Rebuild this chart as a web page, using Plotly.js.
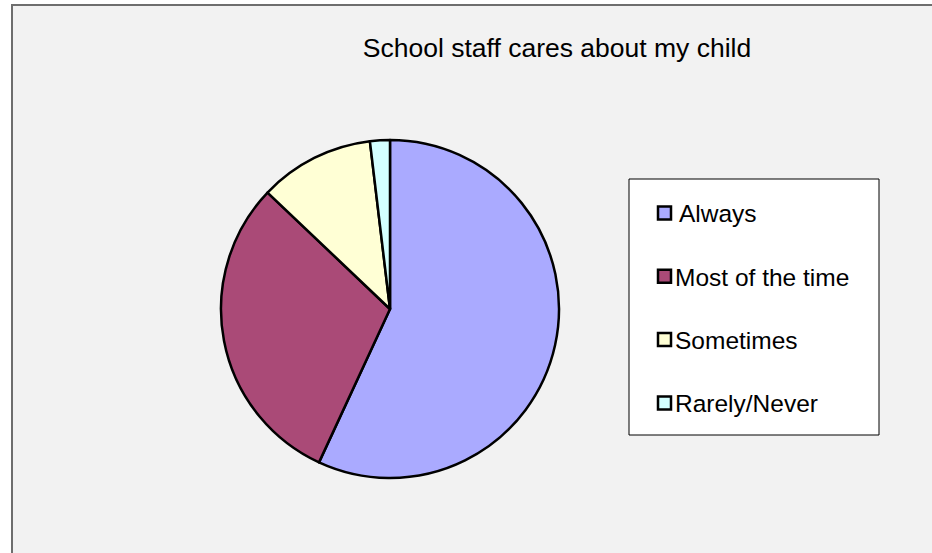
<!DOCTYPE html>
<html>
<head>
<meta charset="utf-8">
<script src="https://cdn.plot.ly/plotly-3.0.1.min.js"></script>
<style>html,body{margin:0;padding:0;background:#fff;}#chart{width:932px;height:553px;}</style>
</head>
<body>
<div id="chart"></div>
<script>
var categories = ["Always", "Most of the time", "Sometimes", "Rarely/Never"];
var values = [56.9, 30.2, 11.0, 1.9];
var colors = ["#AAAAFF", "#AA4A77", "#FFFFD5", "#D3FFFF"];
var titleText = "School staff cares about my child";

var W = 932, H = 553;
function px(x) { return x / W; }
function py(y) { return 1 - y / H; }

var cx = 390, cy = 309, r = 169;

var shapes = [
  {type: "rect", xref: "paper", yref: "paper", x0: px(12), y0: py(5), x1: px(960), y1: py(580),
   fillcolor: "#F2F2F2", line: {color: "#6e6e6e", width: 2}, layer: "below"},
  {type: "rect", xref: "paper", yref: "paper", x0: px(629), y0: py(179), x1: px(879), y1: py(435),
   fillcolor: "#FFFFFF", line: {color: "#000000", width: 1}, layer: "above"}
];
var annotations = [];
var rowY0 = 213, rowGap = 63.3;
categories.forEach(function (c, i) {
  var yc = rowY0 + i * rowGap;
  shapes.push({type: "rect", xref: "paper", yref: "paper",
    x0: px(658), x1: px(671), y0: py(yc - 6.5), y1: py(yc + 6.5),
    fillcolor: colors[i], line: {color: "#000000", width: 2.5}, layer: "above"});
  annotations.push({xref: "paper", yref: "paper", x: px(i === 0 ? 677 : 673), y: py(yc + 1),
    xanchor: "left", yanchor: "middle", showarrow: false, text: c,
    font: {family: "Liberation Sans, Arial, sans-serif", size: 24.5, color: "#000"}});
});

var data = [{
  type: "pie",
  labels: categories,
  values: values,
  sort: false,
  direction: "clockwise",
  rotation: 0,
  textinfo: "none",
  hoverinfo: "label+percent",
  marker: {colors: colors, line: {color: "#000000", width: 2.5}},
  domain: {x: [px(cx - r), px(cx + r)], y: [py(cy + r), py(cy - r)]},
  showlegend: false
}];

var layout = {
  width: W, height: H,
  margin: {l: 0, r: 0, t: 0, b: 0},
  paper_bgcolor: "#FFFFFF",
  showlegend: false,
  title: {text: titleText, x: px(557), xanchor: "center", y: py(48), yanchor: "middle",
    font: {family: "Liberation Sans, Arial, sans-serif", size: 26.5, color: "#000"}},
  shapes: shapes,
  annotations: annotations
};

Plotly.newPlot("chart", data, layout, {displayModeBar: false, staticPlot: true});
</script>
</body>
</html>
